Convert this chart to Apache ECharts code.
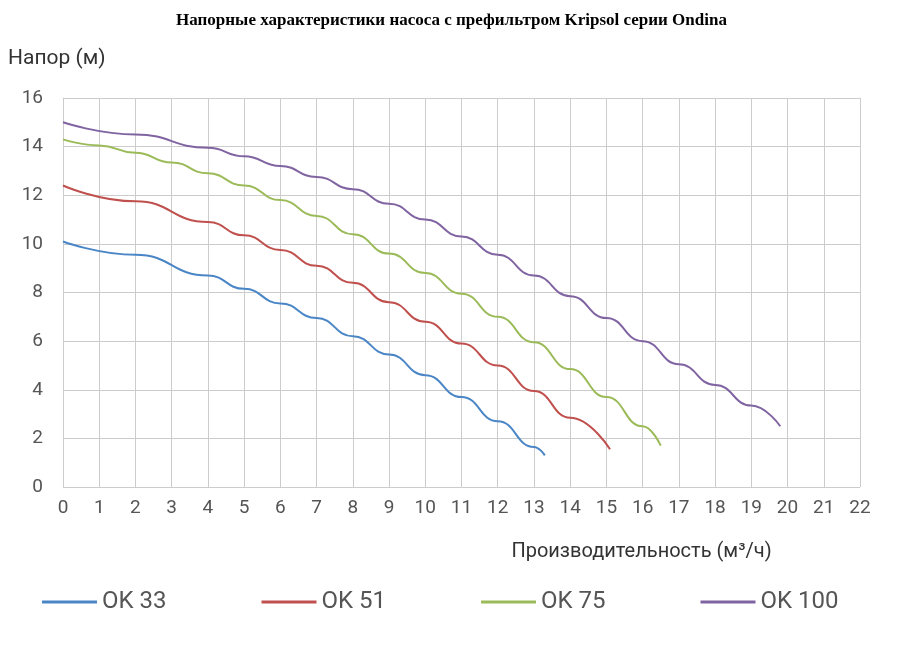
<!DOCTYPE html>
<html><head><meta charset="utf-8">
<script src="https://cdn.jsdelivr.net/npm/echarts@6/dist/echarts.min.js"></script>
<style>html,body{margin:0;padding:0;background:#fff}#c{width:903px;height:653px}</style>
</head><body><div id="c"></div>
<script>
const ok33 = [[0,10.1],[2,9.55],[4,8.7],[5,8.15],[6,7.55],[7,6.95],[8,6.2],[9,5.45],[10,4.6],[11,3.7],[12,2.7],[13,1.65],[13.3,1.3]];
const ok51 = [[0,12.4],[2,11.75],[4,10.9],[5,10.35],[6,9.75],[7,9.1],[8,8.4],[9,7.6],[10,6.8],[11,5.9],[12,5.0],[13,3.95],[14,2.85],[15.1,1.55]];
const ok75 = [[0,14.3],[1,14.05],[2,13.75],[3,13.35],[4,12.9],[5,12.4],[6,11.8],[7,11.15],[8,10.4],[9,9.6],[10,8.8],[11,7.95],[12,7.0],[13,5.95],[14,4.85],[15,3.7],[16,2.5],[16.5,1.7]];
const ok100 = [[0,15.0],[2,14.5],[4,13.95],[5,13.6],[6,13.2],[7,12.75],[8,12.25],[9,11.65],[10,11.0],[11,10.3],[12,9.55],[13,8.7],[14,7.85],[15,6.95],[16,6.0],[17,5.05],[18,4.2],[19,3.35],[19.8,2.5]];
const names = ['OK 33','OK 51','OK 75','OK 100'];
const colors = ['#4a86c6','#c0504d','#9bbb59','#8064a2'];
const chart = echarts.init(document.getElementById('c'));
const f = 'Roboto, sans-serif';
chart.setOption({
  animation:false,
  title:{text:'Напорные характеристики насоса с префильтром Kripsol серии Ondina',left:'center',top:7,
    textStyle:{fontFamily:'Liberation Serif, serif',fontWeight:'bold',fontSize:17,color:'#000'}},
  grid:{left:63,right:43,top:98,bottom:166},
  legend:{bottom:34,left:37,itemWidth:55,itemGap:95,icon:'rect',itemHeight:3,
    textStyle:{fontFamily:f,fontSize:24,color:'#555'},data:names},
  xAxis:{type:'value',min:0,max:22,interval:1,name:'Производительность (м³/ч)',nameLocation:'middle',nameGap:55,
    nameTextStyle:{fontFamily:f,fontSize:20,color:'#333',padding:[0,0,0,360]},
    axisLine:{show:false},axisTick:{show:false},
    axisLabel:{fontFamily:f,fontSize:19,color:'#555',margin:12},
    splitLine:{lineStyle:{color:'#ccc'}}},
  yAxis:{type:'value',min:0,max:16,interval:2,
    axisLine:{show:true,lineStyle:{color:'#ccc'}},axisTick:{show:false},
    axisLabel:{fontFamily:f,fontSize:19,color:'#555',margin:20},
    splitLine:{lineStyle:{color:'#ccc'}}},
  graphic:[{type:'text',left:8,top:48,style:{text:'Напор (м)',fontFamily:f,fontSize:21,fill:'#333'}},
    {type:'rect',shape:{x:860,y:98,width:1,height:389},style:{fill:'#ccc'}}],
  series:[ok33,ok51,ok75,ok100].map((d,i)=>({name:names[i],type:'line',data:d,smooth:0.5,smoothMonotone:'x',showSymbol:false,
    lineStyle:{width:2,color:colors[i]},itemStyle:{color:colors[i]}}))
});
</script></body></html>
